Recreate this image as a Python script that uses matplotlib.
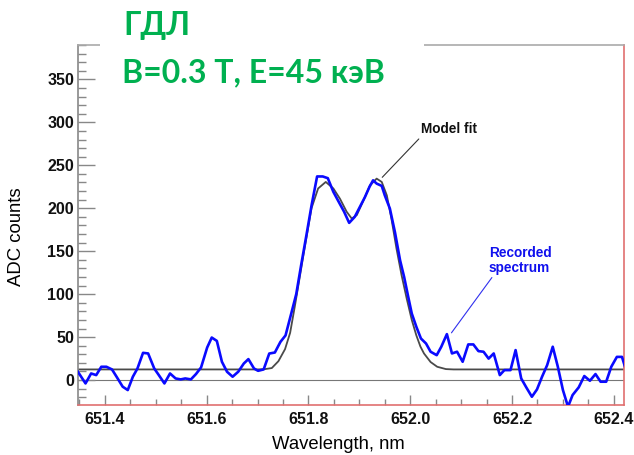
import matplotlib
matplotlib.use("Agg")
import matplotlib.pyplot as plt
from matplotlib.patches import Rectangle
from matplotlib.ticker import MultipleLocator

# recorded spectrum (nm, ADC counts)
wl = [651.347, 651.362, 651.373, 651.383, 651.393, 651.403, 651.414, 651.423,
      651.435, 651.445, 651.455, 651.464, 651.475, 651.485, 651.497, 651.506,
      651.517, 651.528, 651.539, 651.549, 651.558, 651.569, 651.579, 651.589,
      651.601, 651.610, 651.620, 651.630, 651.640, 651.651, 651.662, 651.673,
      651.682, 651.693, 651.701, 651.712, 651.723, 651.734, 651.745, 651.755,
      651.766, 651.776, 651.786, 651.797, 651.806, 651.817, 651.828, 651.838,
      651.849, 651.859, 651.870, 651.880, 651.891, 651.901, 651.911, 651.920,
      651.927, 651.934, 651.944, 651.950, 651.960, 651.970, 651.980, 651.988,
      651.996, 652.003, 652.012, 652.021, 652.031, 652.040, 652.052, 652.061,
      652.072, 652.082, 652.092, 652.103, 652.114, 652.124, 652.134, 652.144,
      652.154, 652.164, 652.176, 652.185, 652.197, 652.207, 652.218, 652.228,
      652.239, 652.249, 652.259, 652.269, 652.280, 652.290, 652.300, 652.310,
      652.319, 652.331, 652.342, 652.353, 652.364, 652.374, 652.385, 652.395,
      652.406, 652.416, 652.423]
counts = [9.7, -3.9, 7.7, 5.8, 15.5, 15.5, 12.4, 3.9,
          -7.7, -11.6, 3.9, 13.5, 31.7, 31.0, 13.5, 5.8,
          -3.9, 7.7, 1.9, 0.8, 1.9, 0.8, 7.0, 14.7,
          37.9, 49.5, 45.6, 21.3, 9.7, 3.9, 9.7, 19.3,
          24.4, 13.5, 10.8, 12.4, 30.9, 32.1, 44.5, 52.0,
          77.0, 100.0, 135.0, 172.0, 203.0, 237.0, 237.0, 235.0,
          219.0, 208.0, 196.0, 183.0, 190.0, 201.5, 213.0, 225.0,
          232.5, 228.7, 226.0, 215.0, 199.6, 172.0, 139.5, 120.0,
          97.0, 77.5, 62.0, 48.4, 42.6, 33.0, 29.0, 38.8,
          53.5, 31.0, 33.0, 21.3, 41.5, 41.5, 33.7, 33.0,
          25.0, 31.0, 5.8, 11.6, 11.6, 34.9, 1.9, -8.5,
          -19.4, -10.9, 3.9, 17.4, 38.8, 15.5, -11.6, -31.0,
          -17.4, -8.5, 4.7, -0.8, 7.0, -1.9, -1.9, 15.5,
          27.0, 27.0, 13.5]

# model fit
fit_wl = [651.348, 651.700, 651.715, 651.728, 651.741, 651.754, 651.764,
          651.773, 651.790, 651.806, 651.819, 651.834, 651.849, 651.862,
          651.875, 651.885, 651.895, 651.908, 651.921, 651.934, 651.944,
          651.954, 651.963, 651.973, 651.983, 651.993, 652.003, 652.012,
          652.020, 652.027, 652.040, 652.053, 652.070, 652.085, 652.420]
fit_counts = [12.4, 12.4, 12.8, 14.0, 22.0, 36.0, 55.0,
              85.0, 145.0, 200.0, 223.0, 230.6, 223.0, 211.0,
              196.0, 188.0, 192.0, 209.0, 226.7, 234.5, 230.6,
              215.0, 188.0, 153.0, 122.0, 95.0, 70.0, 52.0,
              39.0, 31.0, 21.0, 15.5, 12.8, 12.4, 12.4]

fig = plt.figure(figsize=(6.34, 4.55), dpi=100)
ax = fig.add_axes([78.4 / 634, 1 - 405 / 455, (624 - 78.4) / 634, (405 - 45) / 455])

ax.axhline(0, color="#777777", lw=0.8, zorder=1)
ax.plot(fit_wl, fit_counts, color="#4a4a4a", lw=1.3, zorder=2)
ax.plot(wl, counts, color="#0a0aff", lw=1.9, zorder=3)

ax.set_xlim(651.348, 652.42)
ax.set_ylim(-29, 390)

ax.xaxis.set_major_locator(MultipleLocator(0.2))
ax.xaxis.set_minor_locator(MultipleLocator(0.05))
ax.yaxis.set_major_locator(MultipleLocator(50))
ax.yaxis.set_minor_locator(MultipleLocator(10))
ax.xaxis.set_major_formatter(plt.FuncFormatter(lambda v, p: "%.1f" % v))

ax.tick_params(axis="both", which="both", direction="in", color="#888888", width=1.0)
ax.tick_params(axis="x", which="major", length=7.5, pad=5)
ax.tick_params(axis="x", which="minor", length=4.5)
ax.tick_params(axis="y", which="major", length=12, pad=3)
ax.tick_params(axis="y", which="minor", length=6)
for lab in ax.get_xticklabels() + ax.get_yticklabels():
    lab.set_fontfamily("Liberation Sans")
    lab.set_fontweight("bold")
    lab.set_fontsize(11.5)
    lab.set_color("#111111")

ax.spines["left"].set_color("#888888")
ax.spines["top"].set_color("#aaaaaa")
ax.spines["bottom"].set_color("#e07070")
ax.spines["right"].set_color("#e07070")
for s in ax.spines.values():
    s.set_linewidth(1.2)

ax.set_xlabel("Wavelength, nm", fontfamily="Liberation Sans", fontsize=13.3)
ax.set_ylabel("ADC counts", fontfamily="Liberation Sans", fontsize=13.3)
ax.xaxis.set_label_coords(0.476, -0.085)
ax.yaxis.set_label_coords(-0.097, 0.467)

ax.annotate("Model fit", xy=(651.945, 236), xytext=(652.022, 292),
            ha="left", va="center", fontsize=9.8, fontweight="bold",
            fontfamily="Liberation Sans", color="#111111",
            arrowprops=dict(arrowstyle="-", color="#333333", lw=0.8,
                            shrinkA=0, shrinkB=0, relpos=(0.0, 0.0)))
ax.annotate("Recorded\nspectrum", xy=(652.081, 55), xytext=(652.1546, 139.5),
            ha="left", va="center", fontsize=9.8, fontweight="bold",
            fontfamily="Liberation Sans", color="#1010ee", linespacing=1.1,
            arrowprops=dict(arrowstyle="-", color="#3030ee", lw=0.8,
                            shrinkA=0, shrinkB=0, relpos=(0.08, 0.0)))

# white box under the heading
fig.add_artist(Rectangle((100 / 634, 1 - 95 / 455), 324 / 634, 95 / 455,
                         transform=fig.transFigure, facecolor="white",
                         edgecolor="none", zorder=5))
green = "#00b050"
fig.text(123 / 634, 1 - 35 / 455, "ГДЛ", color=green, fontsize=23,
         fontweight="bold", fontfamily="Lato", va="baseline", zorder=6)
fig.text(122 / 634, 1 - 82 / 455, "B=0.3 T, E=45 кэВ", color=green, fontsize=23,
         fontweight="bold", fontfamily="Lato", va="baseline", zorder=6)

fig.savefig("out.png", dpi=100)
